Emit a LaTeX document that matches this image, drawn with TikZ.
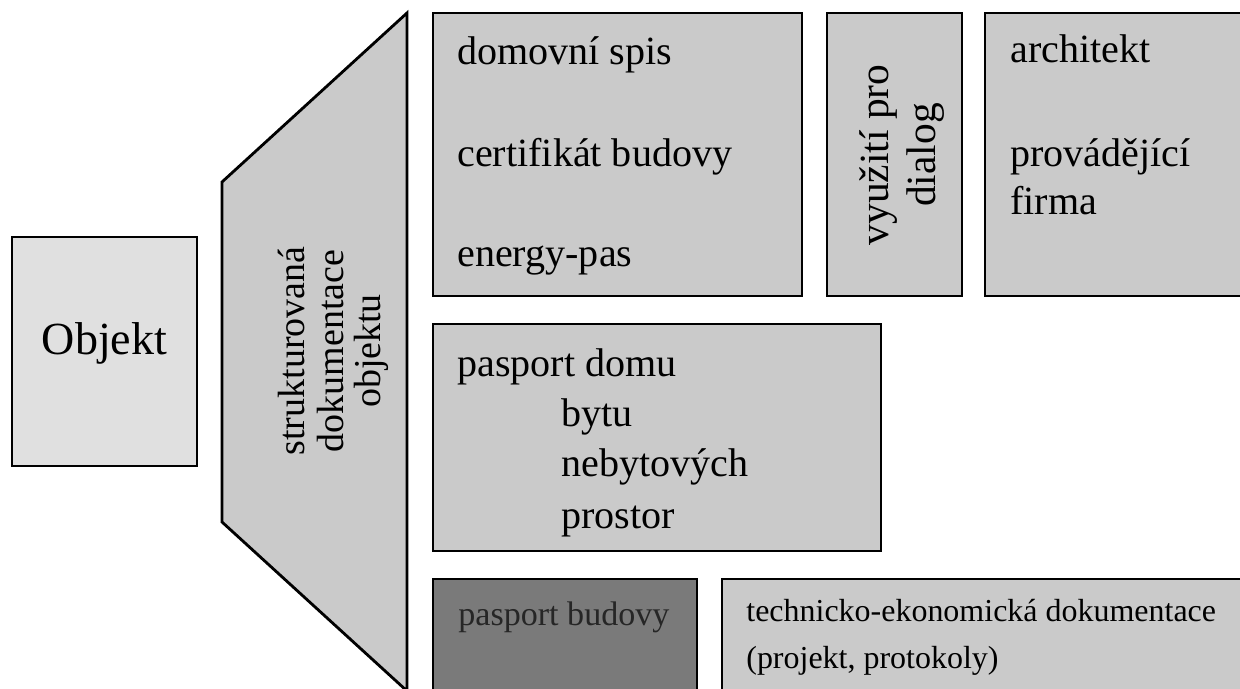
\documentclass[tikz,border=0pt]{standalone}
\usepackage{fontspec}
\setmainfont{Liberation Serif}
\usetikzlibrary{calc}
\definecolor{lgray}{RGB}{224,224,224}
\definecolor{mgray}{RGB}{202,202,202}
\definecolor{dgray}{RGB}{122,122,122}
\newcommand{\lw}{1.6pt}
\newcommand{\mtext}[5][base west]{
  \node [anchor=#1,inner sep=0pt] (#5) at #2 {\fontsize{#3}{0}\selectfont #4};
}
\newcommand{\vtext}[4]{
  \node [anchor=base,inner sep=0pt,rotate=90] (#4) at #1 {\fontsize{#2}{0}\selectfont #3};
}
\newcommand{\mrect}[4]{
  \draw [fill=#3,line width=\lw] #1 rectangle #2;
  \coordinate (#4) at ($#1!0.5!#2$);
}

\begin{document}
\begin{tikzpicture}[x=0.02cm,y=0.02cm]
  \useasboundingbox (0,0) rectangle (1240,689);

  \mrect{(12,223)}{(197,452)}{lgray}{o}
  \mtext[base]{(104.5,334)}{26.2}{Objekt}{ot}

  \draw [fill=mgray,line width=\lw] (222,167) -- (222,507) -- (407,676) -- (407,-2) -- cycle;
  \vtext{(304,338)}{21.6}{strukturovaná}{s1}
  \vtext{(343,338)}{21.6}{dokumentace}{s2}
  \vtext{(380,338)}{21.6}{objektu}{s3}

  \mrect{(433,393)}{(802,676)}{mgray}{a}
  \mtext{(457,624)}{22.8}{domovní spis}{a1}
  \mtext{(457,522)}{22.8}{certifikát budovy}{a2}
  \mtext{(457,422)}{22.8}{energy-pas}{a3}

  \mrect{(827,393)}{(962,676)}{mgray}{b}
  \vtext{(888,534)}{23.6}{využití pro}{b1}
  \vtext{(935,534)}{23.6}{dialog}{b2}

  \mrect{(985,393)}{(1250,676)}{mgray}{c}
  \mtext{(1010,626)}{22.8}{architekt}{c1}
  \mtext{(1010,522)}{22.8}{provádějící}{c2}
  \mtext{(1010,474)}{22.8}{firma}{c3}

  \mrect{(433,138)}{(881,365)}{mgray}{d}
  \mtext{(457,312)}{22.8}{pasport domu}{d1}
  \mtext{(561,262)}{22.8}{bytu}{d2}
  \mtext{(561,212)}{22.8}{nebytových}{d3}
  \mtext{(561,160)}{22.8}{prostor}{d4}

  \mrect{(433,-10)}{(697,110)}{dgray}{e}
  \mtext{(458,63)}{19.4}{\color{black!85}pasport budovy}{e1}

  \mrect{(722,-10)}{(1250,110)}{mgray}{f}
  \mtext{(746,67)}{18.2}{technicko-ekonomická dokumentace}{f1}
  \mtext{(746,20)}{18.2}{(projekt, protokoly)}{f2}
\end{tikzpicture}
\end{document}
